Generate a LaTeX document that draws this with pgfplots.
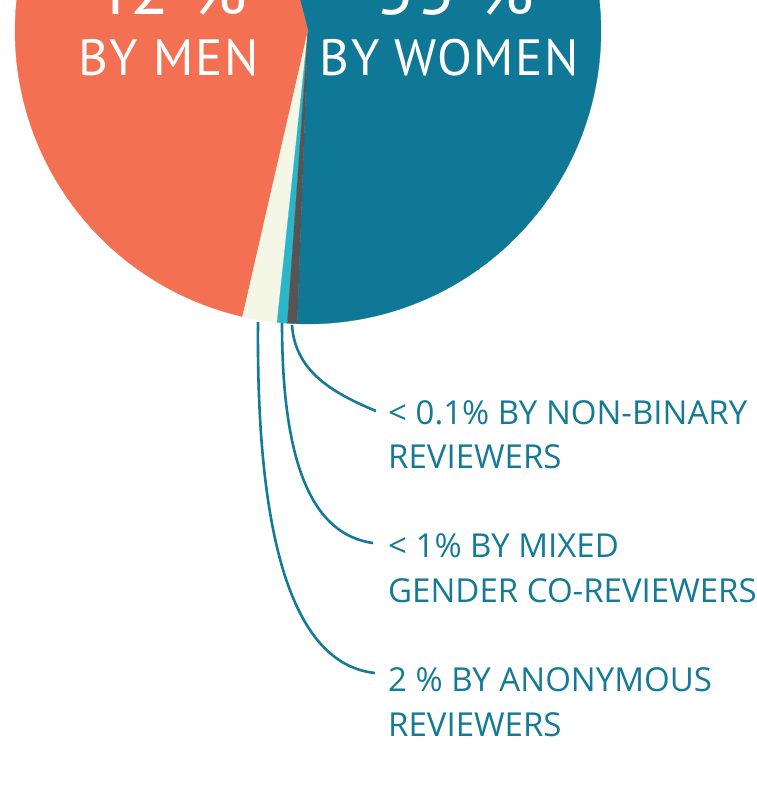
\documentclass[border=0pt]{standalone}
\usepackage{fontspec}
\setmainfont{Open Sans}
\newfontfamily\piefont{PT Sans}[LetterSpace=3.0]
\usepackage{pgfplots}
\pgfplotsset{compat=1.18}

\definecolor{women}{RGB}{14,120,150}
\definecolor{men}{RGB}{243,112,82}
\definecolor{anon}{RGB}{245,247,230}
\definecolor{mixed}{RGB}{42,182,200}
\definecolor{nonbin}{RGB}{85,85,85}
\definecolor{labteal}{RGB}{20,122,150}

% shares of reviews (percent), as drawn
\def\pWomen{54.60}
\def\pMen{42.40}
\def\pAnon{1.90}
\def\pMixed{0.56}
\def\pNonbin{0.54}

\begin{document}
\begin{tikzpicture}
\pgfmathsetmacro{\aA}{-92.1}
\pgfmathsetmacro{\aB}{\aA+3.6*\pWomen}
\pgfmathsetmacro{\aC}{\aB+3.6*\pMen}
\pgfmathsetmacro{\aD}{\aC+3.6*\pAnon}
\pgfmathsetmacro{\aE}{\aD+3.6*\pMixed}
\pgfmathsetmacro{\aF}{\aE+3.6*\pNonbin}
\begin{axis}[
    hide axis,
    scale only axis,
    width=757pt, height=787pt,
    xmin=-308, xmax=449,
    ymin=-756, ymax=31,
    clip=true,
]
\addplot[women, fill=women, line width=0.3pt, data cs=polar, domain=\aA:\aB, samples=100] ({x},{293}) -- (axis cs:0,0) -- cycle;
\addplot[men, fill=men, line width=0.3pt, data cs=polar, domain=\aB:\aC, samples=80] ({x},{293}) -- (axis cs:0,0) -- cycle;
\addplot[anon, fill=anon, line width=0.3pt, data cs=polar, domain=\aC:\aD, samples=10] ({x},{293}) -- (axis cs:0,0) -- cycle;
\addplot[mixed, fill=mixed, line width=0.3pt, data cs=polar, domain=\aD:\aE, samples=5] ({x},{293}) -- (axis cs:0,0) -- cycle;
\addplot[nonbin, fill=nonbin, line width=0.3pt, data cs=polar, domain=\aE:\aF, samples=5] ({x},{293}) -- (axis cs:0,0) -- cycle;

% labels inside the pie
\node[anchor=base, text=white, font=\piefont\fontsize{72}{72}\selectfont] at (axis cs:-140,16) {42 \%};
\node[anchor=base, text=white, font=\piefont\fontsize{72}{72}\selectfont] at (axis cs:147,16) {55 \%};
\node[anchor=base, text=white, font=\piefont\fontsize{51}{51}\selectfont] at (axis cs:-139.5,-45) {BY MEN};
\node[anchor=base, text=white, font=\piefont\fontsize{51}{51}\selectfont] at (axis cs:141.5,-45) {BY WOMEN};

% leader lines
\draw[labteal, line width=2.6pt] (axis cs:-16,-294) .. controls (axis cs:-13,-339) and (axis cs:22,-361) .. (axis cs:68,-380);
\draw[labteal, line width=2.6pt] (axis cs:-26,-292) .. controls (axis cs:-26,-439) and (axis cs:7,-504) .. (axis cs:65,-512);
\draw[labteal, line width=2.6pt] (axis cs:-50,-291) .. controls (axis cs:-52,-529) and (axis cs:-8,-634) .. (axis cs:67,-642);

% outside labels
\begin{scope}[every node/.style={anchor=base west, inner sep=0pt, text=labteal, font=\fontsize{33}{33}\selectfont}]
\node at (axis cs:80,-394) {< 0.1\% BY NON-BINARY};
\node at (axis cs:80,-438) {REVIEWERS};
\node at (axis cs:80,-527) {< 1\% BY MIXED};
\node at (axis cs:80,-572) {GENDER CO-REVIEWERS};
\node at (axis cs:80,-661) {2 \% BY ANONYMOUS};
\node at (axis cs:80,-706) {REVIEWERS};
\end{scope}
\end{axis}
\pgfresetboundingbox
\path[use as bounding box] (current axis.south west) rectangle (current axis.north east);
\end{tikzpicture}
\end{document}
